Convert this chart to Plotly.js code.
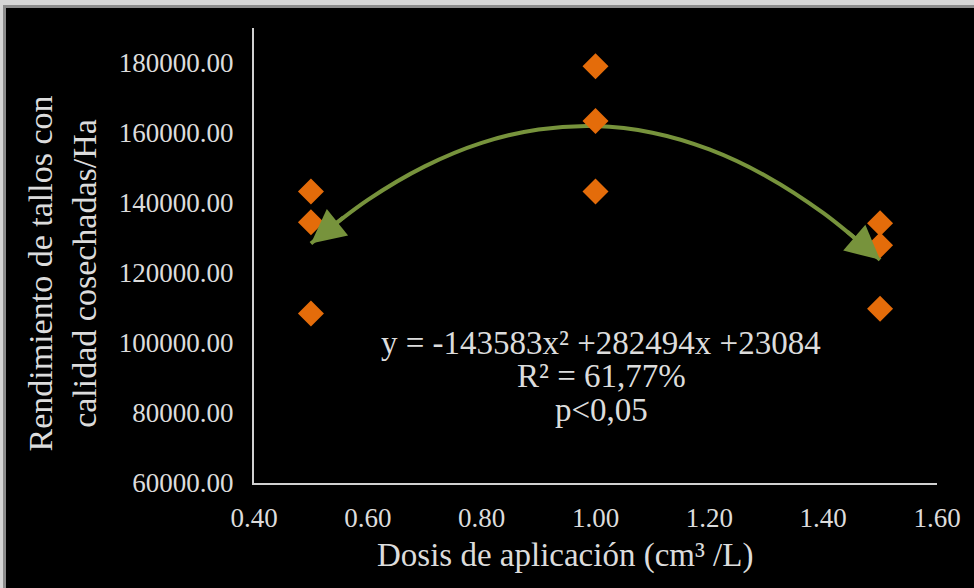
<!DOCTYPE html>
<html>
<head>
<meta charset="utf-8">
<script src="https://cdn.plot.ly/plotly-3.0.1.min.js"></script>
<style>
  html, body { margin: 0; padding: 0; background: #d6d6d6; width: 974px; height: 588px; overflow: hidden; }
  #wrap { position: absolute; left: 3px; top: 5px; width: 971px; height: 583px; background: #000;
          border-left: 3px solid #8c8c8c; border-top: 3px solid #8c8c8c; box-sizing: border-box; }
  #chart { position: absolute; left: 0; top: 0; width: 968px; height: 580px; }
</style>
</head>
<body>
<div id="wrap"><div id="chart"></div></div>
<script>
// ---- data ----
const doses  = [0.5, 0.5, 0.5, 1.0, 1.0, 1.0, 1.5, 1.5, 1.5];
const yields = [143300, 134500, 108400, 179100, 163400, 143300, 134200, 127900, 109800];

// trend line (quadratic fit shown on the chart)
const trendX = [0.5, 0.6, 0.7, 0.8, 0.9, 1.0, 1.1, 1.2, 1.3, 1.4, 1.5];
const trendY = [128435, 140890, 150474, 157186, 161026, 161995, 160092, 155317, 147671, 137153, 123763];

// arrow ends of the trend line: [tail, tip]
const arrowLeftX  = [0.56, 0.5];
const arrowLeftY  = [136253, 128435];
const arrowRightX = [1.44, 1.5];
const arrowRightY = [132142, 123763];

const xTickVals = [0.4, 0.6, 0.8, 1.0, 1.2, 1.4, 1.6];
const xTickText = ['0.40', '0.60', '0.80', '1.00', '1.20', '1.40', '1.60'];
const yTickVals = [60000, 80000, 100000, 120000, 140000, 160000, 180000];
const yTickText = ['60000.00', '80000.00', '100000.00', '120000.00', '140000.00', '160000.00', '180000.00'];

const eqLines = ['y = -143583x² +282494x +23084', 'R² = 61,77%', 'p<0,05'];
const xTitle = 'Dosis de aplicación (cm³ /L)';
const yTitle = 'Rendimiento de tallos con<br>calidad cosechadas/Ha';

const FONT = 'Liberation Serif, Times New Roman, serif';
const TXT = '#dcdcdc';
const GREEN = '#77933c';
const ORANGE = '#e46c0a';

const traces = [
  {
    x: trendX, y: trendY, type: 'scatter', mode: 'lines',
    line: { color: GREEN, width: 4, shape: 'spline' },
    hoverinfo: 'skip', showlegend: false
  },
  {
    x: doses, y: yields, type: 'scatter', mode: 'markers',
    marker: { symbol: 'diamond', size: 20, color: ORANGE },
    showlegend: false
  }
];

const eqY = [100000, 90600, 80900];
const annotations = [];
eqLines.forEach((t, i) => annotations.push({
  x: 1.01, y: eqY[i], xref: 'x', yref: 'y', text: t, showarrow: false,
  xanchor: 'center', yanchor: 'middle',
  font: { family: FONT, size: 33, color: TXT }
}));
function arrow(xs, ys) {
  return {
    x: xs[1], y: ys[1], ax: xs[0], ay: ys[0],
    xref: 'x', yref: 'y', axref: 'x', ayref: 'y',
    showarrow: true, arrowhead: 2, arrowsize: 1.7, arrowwidth: 4,
    arrowcolor: GREEN, text: ''
  };
}
annotations.push(arrow(arrowLeftX, arrowLeftY));
annotations.push(arrow(arrowRightX, arrowRightY));
annotations.push({
  x: 0, y: 0.5, xref: 'paper', yref: 'paper', xshift: -192, yshift: -18,
  text: yTitle, textangle: -90, showarrow: false,
  xanchor: 'center', yanchor: 'middle',
  font: { family: FONT, size: 34, color: TXT }
});
annotations.push({
  x: 0.5, y: 0, xref: 'paper', yref: 'paper', xshift: -31, yshift: -72,
  text: xTitle, showarrow: false, xanchor: 'center', yanchor: 'middle',
  font: { family: FONT, size: 33, color: TXT }
});

const layout = {
  width: 968, height: 580,
  paper_bgcolor: '#000', plot_bgcolor: '#000',
  margin: { l: 248, r: 37, t: 20, b: 105 },
  showlegend: false,
  font: { family: FONT, color: TXT },
  xaxis: {
    range: [0.4, 1.6], tickvals: xTickVals, ticktext: xTickText,
    showgrid: false, zeroline: false, showline: true, linecolor: '#d0d0d0', linewidth: 2,
    ticks: '', tickfont: { family: FONT, size: 27, color: TXT }, ticklabelstandoff: 10
  },
  yaxis: {
    range: [60000, 190000], tickvals: yTickVals, ticktext: yTickText,
    showgrid: false, zeroline: false, showline: true, linecolor: '#d0d0d0', linewidth: 2,
    ticks: '', tickfont: { family: FONT, size: 27, color: TXT }, ticklabelstandoff: 13
  },
  annotations: annotations
};

Plotly.newPlot('chart', traces, layout, { displayModeBar: false, staticPlot: true });
</script>
</body>
</html>
